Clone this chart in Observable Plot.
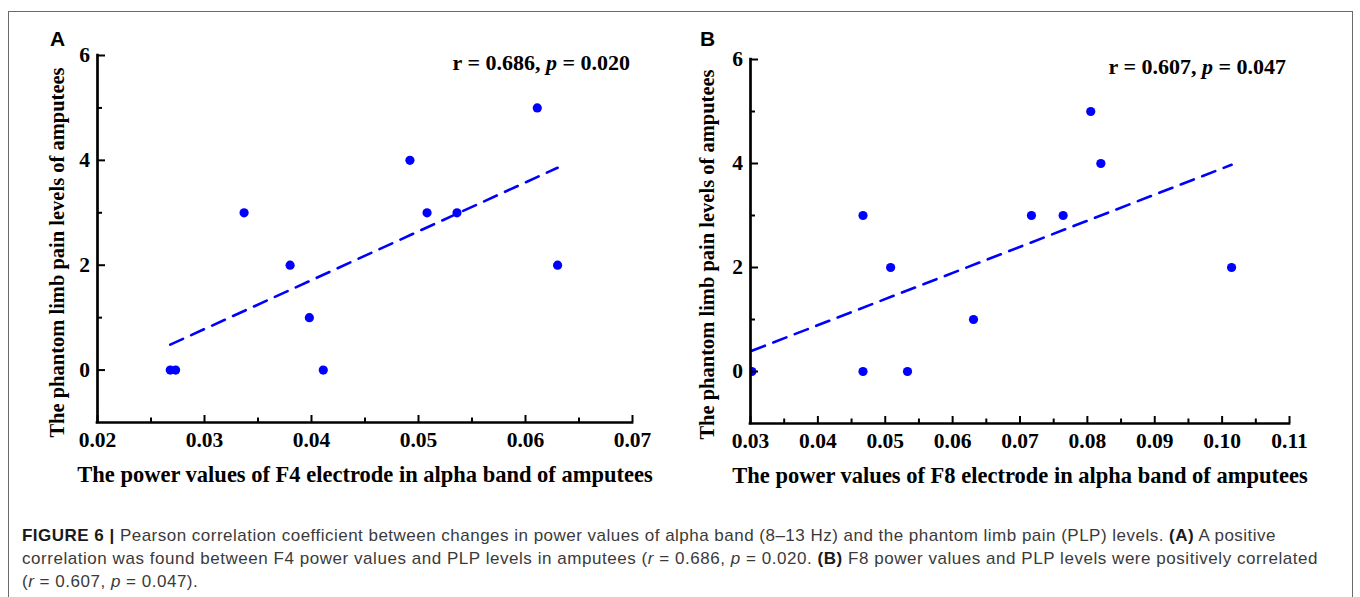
<!DOCTYPE html>
<html><head><meta charset="utf-8">
<script src="https://cdn.jsdelivr.net/npm/d3@7"></script>
<script src="https://cdn.jsdelivr.net/npm/@observablehq/plot@0.6"></script>
<style>
body{margin:0;background:#fff;}
#wrap{position:relative;width:1360px;height:597px;overflow:hidden;font-family:"Liberation Serif","Times New Roman",serif;}
#frame{position:absolute;left:8px;top:11px;width:1345px;height:600px;border:1.5px solid #6a6a6a;box-sizing:border-box;}
.plot{position:absolute;top:0;}
.panel{position:absolute;font-family:"Liberation Sans",Arial,sans-serif;font-weight:bold;font-size:21px;line-height:21px;color:#000;}
.stat{position:absolute;font-weight:bold;font-size:22px;line-height:22px;white-space:nowrap;color:#000;text-align:right;}
.cap{position:absolute;left:22px;font-family:"Liberation Sans",Arial,sans-serif;font-size:17px;line-height:17px;color:#3a3a3a;white-space:nowrap;}
.cap b{color:#1a1a1a;}
</style></head>
<body>
<div id="wrap"><div id="frame"></div></div>
<script>
// ---- data ----
const f4Power = [0.0268, 0.0273, 0.0337, 0.0380, 0.0398, 0.0411, 0.0492, 0.0508, 0.0536, 0.0611, 0.0630];
const f4Pain  = [0, 0, 3, 2, 1, 0, 4, 3, 3, 5, 2];
const f8Power = [0.0302, 0.0467, 0.0467, 0.0508, 0.0533, 0.0631, 0.0717, 0.0764, 0.0805, 0.0820, 0.1014];
const f8Pain  = [0, 3, 0, 2, 0, 1, 3, 3, 5, 4, 2];
const panelLetters = ["A", "B"];
const rValues = ["0.686", "0.607"];
const pValues = ["0.020", "0.047"];
const xTicksA = [0.02, 0.03, 0.04, 0.05, 0.06, 0.07];
const xMinorA = [0.025, 0.035, 0.045, 0.055, 0.065];
const xTicksB = [0.03, 0.04, 0.05, 0.06, 0.07, 0.08, 0.09, 0.10, 0.11];
const xMinorB = [0.035, 0.045, 0.055, 0.065, 0.075, 0.085, 0.095, 0.105];
const yTicks = [0, 2, 4, 6];
const yMinor = [1, 3, 5];
const yLabel = "The phantom limb pain levels of amputees";
const xLabels = ["The power values of F4 electrode in alpha band of amputees",
                 "The power values of F8 electrode in alpha band of amputees"];

const SERIF = "'Liberation Serif','Times New Roman',serif";
const BLUE = "#0000ff";

function makePanel({power, pain, xDomain, xTicks, xMinor, xLabel, margins, yLabDx, yLabDy}) {
  const data = power.map((x, i) => ({x, y: pain[i]}));
  return Plot.plot({
    width: 680, height: 500, ...margins,
    x: {domain: xDomain, axis: null},
    y: {domain: [-1, 6], axis: null},
    style: {fontFamily: SERIF, fontWeight: "bold", color: "#000", background: "transparent", overflow: "visible"},
    marks: [
      Plot.linearRegressionY(data, {x: "x", y: "y", ci: 0, stroke: BLUE, strokeWidth: 2.6, strokeDasharray: "14,9"}),
      Plot.dot(data, {x: "x", y: "y", r: 4.6, fill: BLUE, stroke: "none", clip: true}),
      Plot.axisX(xTicks, {tickSize: -7, tickPadding: 16.5, tickFormat: d3.format(".2f"), fontSize: 21.5, fontWeight: "bold", strokeWidth: 2, label: null}),
      Plot.axisX(xMinor, {tickSize: -4.5, tickFormat: () => "", strokeWidth: 2, label: null}),
      Plot.axisY(yTicks, {tickSize: -8, tickPadding: 15.5, tickFormat: d3.format("d"), fontSize: 21.5, fontWeight: "bold", strokeWidth: 2, label: null}),
      Plot.axisY(yMinor, {tickSize: -5, tickFormat: () => "", strokeWidth: 2, label: null}),
      Plot.ruleX([xDomain[0]], {stroke: "#000", strokeWidth: 2.7, strokeLinecap: "square"}),
      Plot.ruleY([-1], {stroke: "#000", strokeWidth: 2.7, strokeLinecap: "square"}),
      Plot.text([xLabel], {text: d => d, frameAnchor: "bottom", textAnchor: "middle", dy: 59, lineAnchor: "bottom", fontSize: 22.5, fontWeight: "bold", fill: "#000"}),
      Plot.text([yLabel], {text: d => d, frameAnchor: "left", textAnchor: "middle", rotate: -90, dx: yLabDx, dy: yLabDy, lineAnchor: "bottom", fontSize: 20.5, fontWeight: "bold", fill: "#000"})
    ]
  });
}

const wrap = document.getElementById("wrap");
const plotA = makePanel({power: f4Power, pain: f4Pain, xDomain: [0.02, 0.07], xTicks: xTicksA, xMinor: xMinorA, xLabel: xLabels[0],
  margins: {marginLeft: 97, marginRight: 48, marginTop: 55, marginBottom: 78}, yLabDx: -33.5, yLabDy: 13.5});
const plotB = makePanel({power: f8Power, pain: f8Pain, xDomain: [0.03, 0.11], xTicks: xTicksB, xMinor: xMinorB, xLabel: xLabels[1],
  margins: {marginLeft: 70, marginRight: 71, marginTop: 59, marginBottom: 77}, yLabDx: -37, yLabDy: 13});
plotA.classList.add("plot"); plotA.style.left = "0px";
plotB.classList.add("plot"); plotB.style.left = "680px";
wrap.appendChild(plotA); wrap.appendChild(plotB);

// panel letters
[[50, 28], [700, 28]].forEach(([l, t], i) => {
  const d = document.createElement("div");
  d.className = "panel"; d.style.left = l + "px"; d.style.top = t + "px";
  d.textContent = panelLetters[i];
  wrap.appendChild(d);
});
// statistics annotations
[[730, 51.6], [74, 55.6]].forEach(([r, t], i) => {
  const d = document.createElement("div");
  d.className = "stat"; d.style.right = r + "px"; d.style.top = t + "px";
  d.innerHTML = `r = ${rValues[i]}, <i>p</i> = ${pValues[i]}`;
  wrap.appendChild(d);
});
// caption
const capLines = [
  `<b>FIGURE 6 |</b> Pearson correlation coefficient between changes in power values of alpha band (8–13 Hz) and the phantom limb pain (PLP) levels. <b>(A)</b> A positive`,
  `correlation was found between F4 power values and PLP levels in amputees (<i>r</i> = ${rValues[0]}, <i>p</i> = ${pValues[0]}. <b>(B)</b> F8 power values and PLP levels were positively correlated`,
  `(<i>r</i> = ${rValues[1]}, <i>p</i> = ${pValues[1]}).`
];
const capTops = [527, 550, 573];
const capTargets = [1254, 1296, null];
let spacings = [];
capLines.forEach((html, i) => {
  const d = document.createElement("div");
  d.className = "cap"; d.style.top = capTops[i] + "px";
  d.innerHTML = html;
  wrap.appendChild(d);
  if (capTargets[i]) {
    const w = d.getBoundingClientRect().width;
    const n = d.textContent.length;
    const ls = (capTargets[i] - w) / n;
    spacings.push(ls);
    d.style.letterSpacing = ls + "px";
  } else {
    const ls = spacings.reduce((a, b) => a + b, 0) / spacings.length;
    d.style.letterSpacing = ls + "px";
  }
});
</script>
</body></html>
